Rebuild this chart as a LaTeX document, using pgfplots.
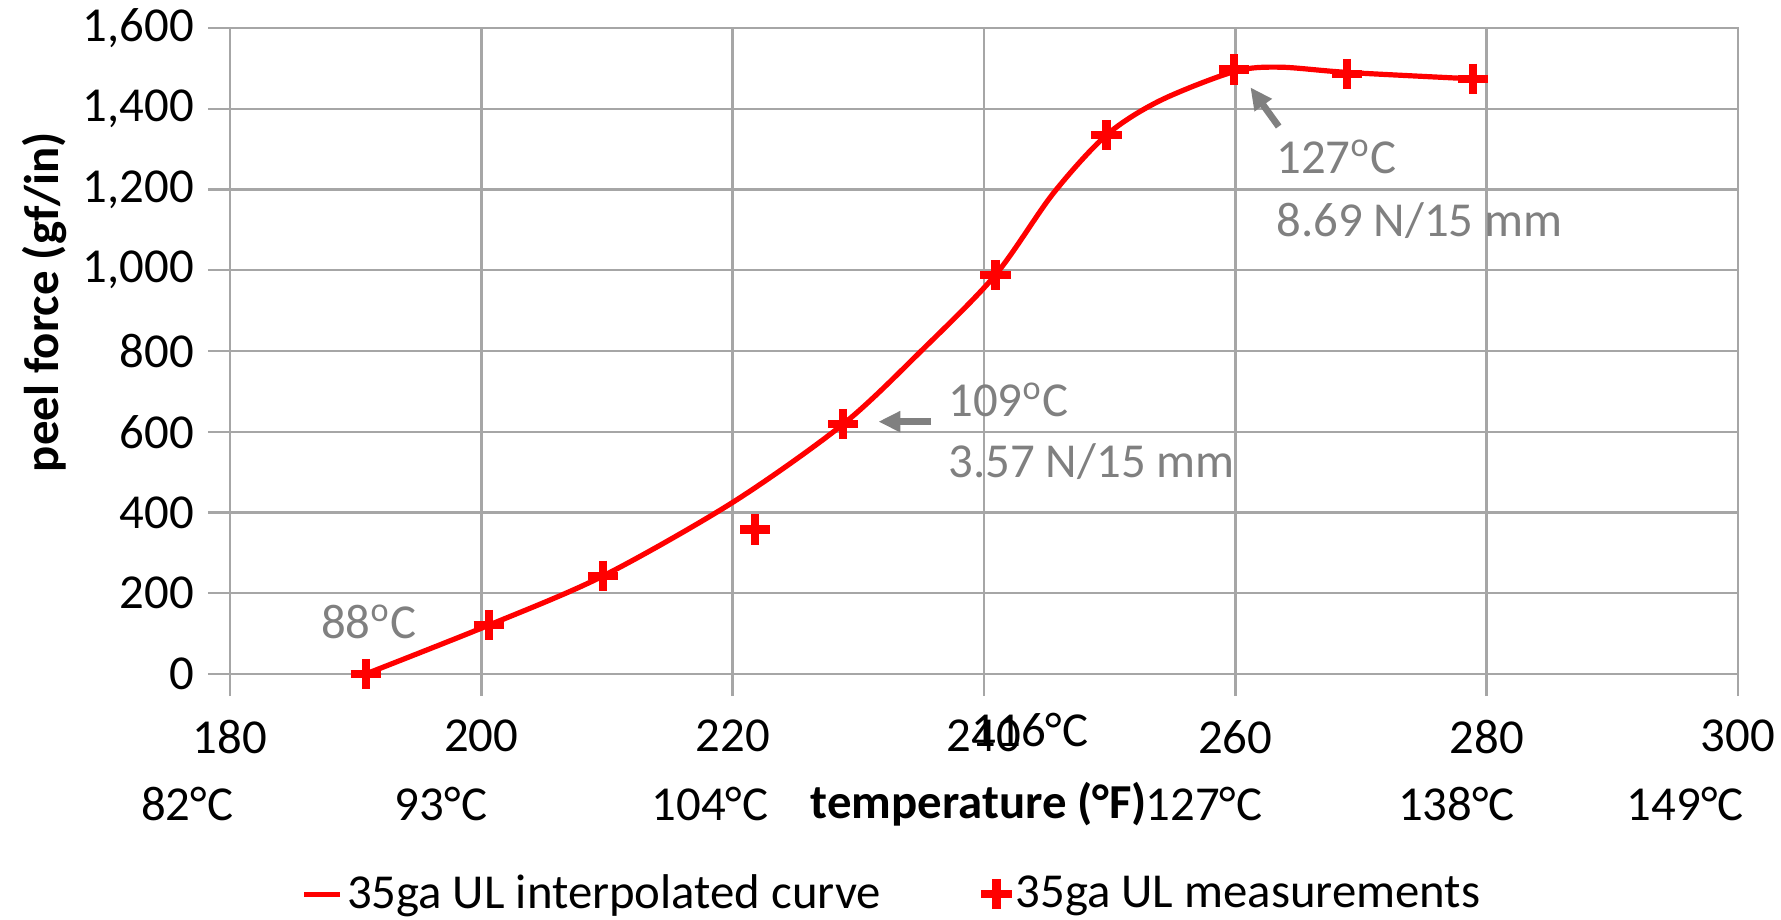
\documentclass[border=0pt]{standalone}
\usepackage{fontspec}
\setmainfont{Carlito}
\usepackage{pgfplots}
\pgfplotsset{compat=1.18}
\usetikzlibrary{arrows.meta}
\definecolor{gridgray}{RGB}{166,166,166}
\definecolor{anngray}{RGB}{128,128,128}
\definecolor{pred}{RGB}{255,0,0}
\newcommand{\fs}{\fontsize{12.2pt}{14.6pt}\selectfont}
\pgfplotsset{linelegend/.style={legend image code/.code={\draw[##1] (0pt,0pt) -- (9pt,0pt);}}}
\begin{document}
\begin{tikzpicture}
\path[use as bounding box] (-57.5pt,-61.5pt) rectangle (387.75pt,168.5pt);
\begin{axis}[
  scale only axis, width=377pt, height=161.5pt,
  xmin=180, xmax=300, ymin=0, ymax=1600,
  xtick={180,200,...,300}, ytick={0,200,...,1600},
  grid=major, major grid style={gridgray, line width=0.6pt},
  axis line style={gridgray, line width=0.6pt},
  tick style={gridgray, line width=0.6pt},
  tick align=outside, major tick length=5.5pt,
  xtick pos=bottom, ytick pos=left,
  ticklabel style={font=\fs},
  xticklabel style={yshift=-2.5pt},
  /pgf/number format/assume math mode=true,
  /pgf/number format/1000 sep={,},
  scaled y ticks=false,
  clip=false,
  xlabel={temperature (°F)},
  xlabel style={at={(rel axis cs:0.4967,-0.2012)}, anchor=center, font=\fs\bfseries},
  ylabel={peel force (gf/in)},
  ylabel style={at={(rel axis cs:-0.1227,0.576)}, anchor=center, font=\fs\bfseries},
  legend style={at={(rel axis cs:0.4397,-0.341)}, anchor=center, draw=none, fill=none,
    legend columns=2, font=\fs, inner sep=0pt,
    nodes={inner xsep=1pt, inner ysep=0.5pt},
    /tikz/every even column/.append style={column sep=24pt}},
  legend cell align=left,
]
\addplot[pred, line width=1.3pt, smooth, no markers, linelegend]
  coordinates {(190.8,0) (200.6,121) (209.7,243) (220,425) (228.8,619) (235,800)
   (240.9,988) (245.5,1190) (249.75,1335) (254,1420) (259.9,1492) (263.5,1503)
   (268.9,1490) (278.9,1474)};
\addlegendentry{35ga UL interpolated curve}
\addplot[only marks, mark=+, mark size=3.8pt, mark options={pred, line width=2.1pt}]
  coordinates {(190.8,0) (200.6,121) (209.7,243) (221.8,358) (228.8,619)
   (240.9,988) (249.75,1335) (259.9,1497) (268.9,1486) (278.9,1474)};
\addlegendentry{35ga UL measurements}

% Celsius secondary labels
\node[font=\fs] at (axis cs:176.58,-322) {82°C};
\node[font=\fs] at (axis cs:196.79,-322) {93°C};
\node[font=\fs] at (axis cs:218.2,-322) {104°C};
\node[font=\fs] at (axis cs:243.66,-139) {116°C};
\node[font=\fs] at (axis cs:257.5,-322) {127°C};
\node[font=\fs] at (axis cs:277.6,-322) {138°C};
\node[font=\fs] at (axis cs:295.8,-322) {149°C};

% annotations
\node[font=\fs, text=anngray] at (axis cs:191.06,129) {88\textsuperscript{o}C};
\node[font=\fs, text=anngray, anchor=west, inner sep=0pt] at (axis cs:237.1,679) {109\textsuperscript{o}C};
\node[font=\fs, text=anngray, anchor=west, inner sep=0pt] at (axis cs:237.1,525) {3.57 N/15 mm};
\node[font=\fs, text=anngray, anchor=west, inner sep=0pt] at (axis cs:263.2,1281) {127\textsuperscript{o}C};
\node[font=\fs, text=anngray, anchor=west, inner sep=0pt] at (axis cs:263.2,1124) {8.69 N/15 mm};
\draw[anngray, line width=1.7pt, -{Triangle[length=5.5pt,width=5pt]}] (axis cs:235.8,625) -- (axis cs:231.6,625);
\draw[anngray, line width=1.7pt, -{Triangle[length=5.5pt,width=5pt]}] (axis cs:263.45,1356) -- (axis cs:261.2,1453);
\end{axis}
\end{tikzpicture}
\end{document}
